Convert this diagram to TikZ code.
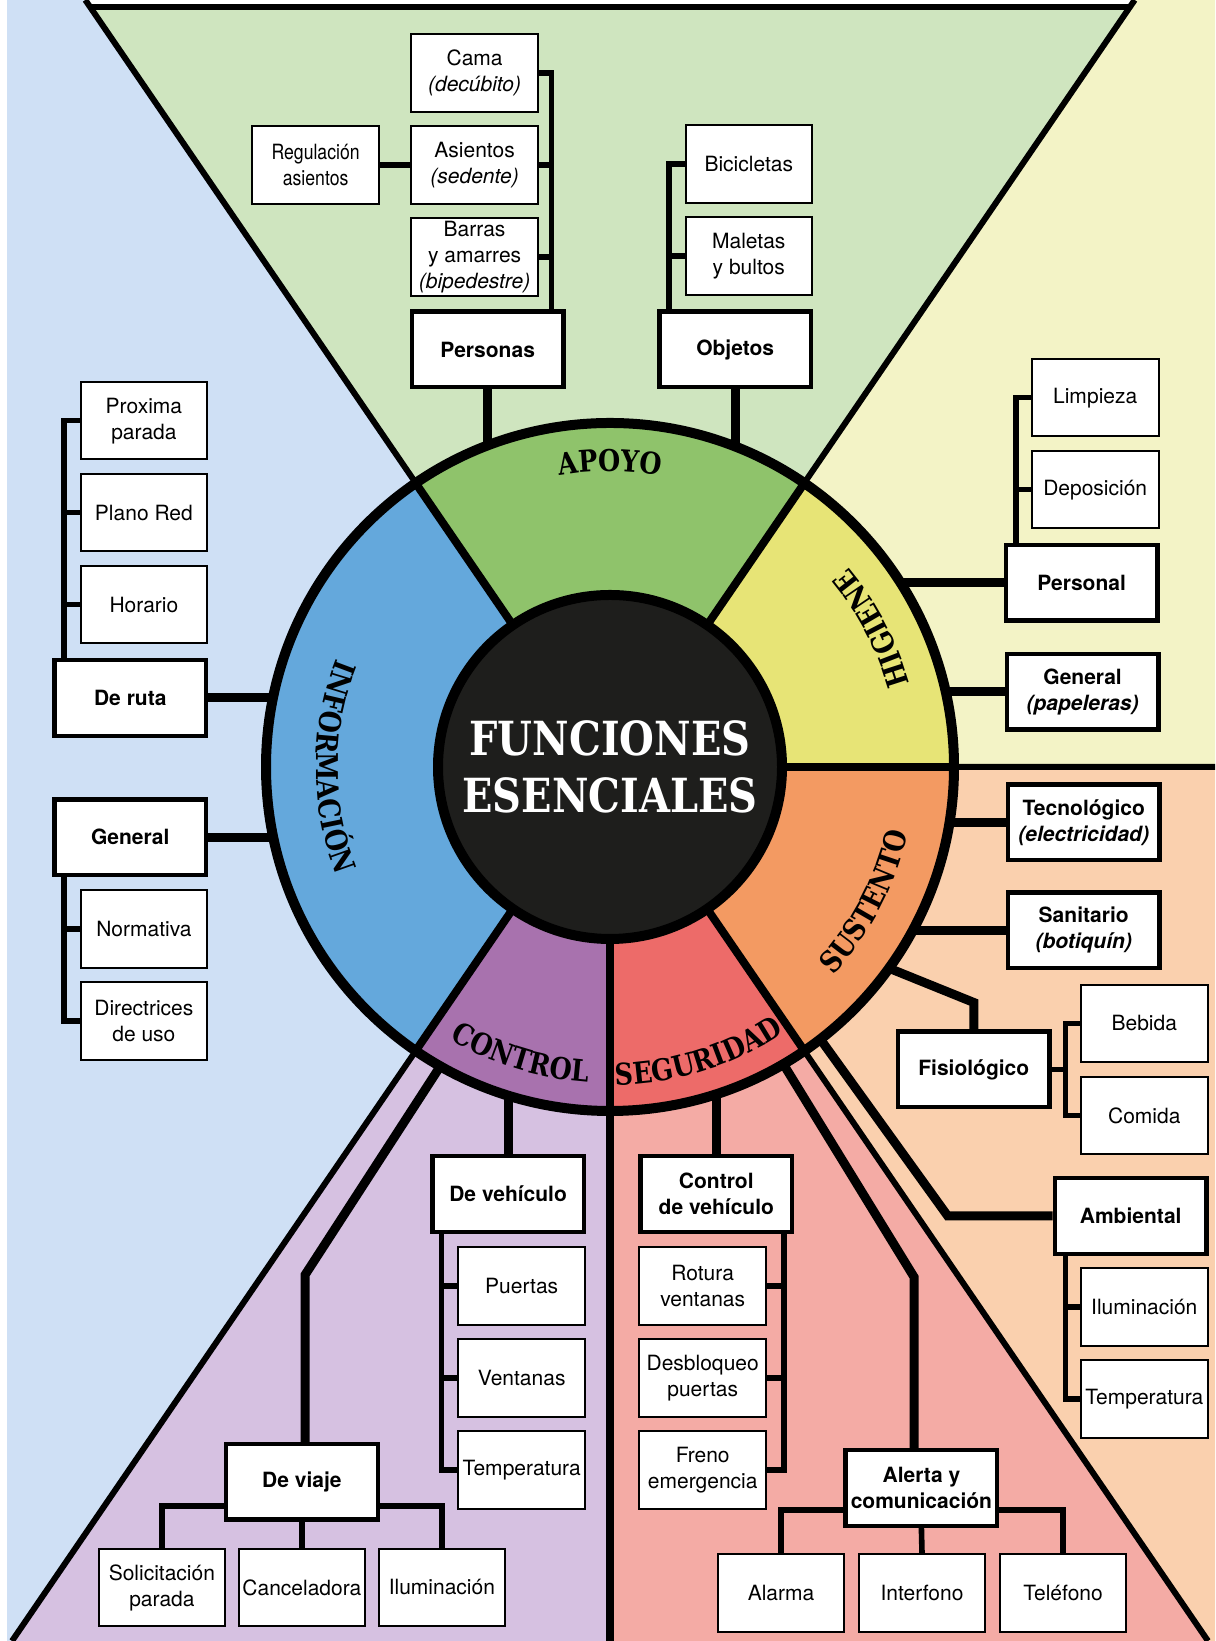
\documentclass[tikz,border=0pt]{standalone}
\usepackage{fontspec}
\setmainfont{TeX Gyre Heros}
\newfontfamily\slabfont[FakeStretch=0.85]{DejaVu Serif}
\newfontfamily\narrowfont[FakeStretch=0.84]{TeX Gyre Heros}
\usetikzlibrary{positioning,calc,decorations.text}

\definecolor{infobg}{HTML}{CFE0F5}
\definecolor{apoyobg}{HTML}{CFE5BF}
\definecolor{higbg}{HTML}{F3F3C6}
\definecolor{sustbg}{HTML}{FAD0AE}
\definecolor{segbg}{HTML}{F4ABA5}
\definecolor{ctrlbg}{HTML}{D6C1E1}
\definecolor{infocol}{HTML}{64A8DC}
\definecolor{apoyocol}{HTML}{8FC36B}
\definecolor{higcol}{HTML}{E7E476}
\definecolor{sustcol}{HTML}{F39A62}
\definecolor{segcol}{HTML}{ED6B69}
\definecolor{ctrlcol}{HTML}{A872AE}
\definecolor{core}{HTML}{1E1E1C}

\pgfdeclarelayer{back}
\pgfdeclarelayer{wires}
\pgfdeclarelayer{ring}
\pgfsetlayers{back,wires,ring,main}

\newcommand{\boxfont}{\fontsize{10.5}{13}\selectfont}
\newcommand{\ringfont}{\slabfont\bfseries\fontsize{15}{18}\selectfont}
\newcommand{\ringlabel}[4]{\path[decorate,decoration={text along path,text align=center,text={|\ringfont|#4}}] ($(c)+(#1:#3)$) arc[start angle=#1,end angle=#2,radius=#3];}

\tikzset{
  leaf/.style={draw,fill=white,line width=1pt,minimum width=63.3pt,minimum height=38.8pt,inner sep=0pt,align=center,font=\boxfont},
  branch/.style={leaf,line width=2.2pt,minimum width=75.8pt,minimum height=37.8pt,font=\boxfont\bfseries},
  trunk/.style={line width=4.5pt},
  twig/.style={line width=2.8pt}
}

\begin{document}
\begin{tikzpicture}[x=0.5pt,y=0.5pt,on grid,node distance=46pt]
  \useasboundingbox (0,0) rectangle (1215,1641);
  \coordinate (c) at (610,874);

  \node[leaf] (cama) at (474.6,1567.7) {Cama\\\textit{(decúbito)}};
  \node[leaf,below=of cama] (asientos) {Asientos\\\textit{(sedente)}};
  \node[leaf,below=of asientos] (barras) {Barras\\y amarres\\\textit{(bipedestre)}};
  \node[leaf,left=79.5pt of asientos,font=\narrowfont\boxfont] (regul) {Regulación\\asientos};
  \node[branch] (personas) at (487.7,1291.5) {Personas};
  \node[leaf] (bicis) at (748.8,1476.7) {Bicicletas};
  \node[leaf,below=of bicis] (maletas) {Maletas\\y bultos};
  \node[branch] (objetos) at (735.2,1291.5) {Objetos};

  \node[leaf] (proxima) at (143.9,1220.3) {Proxima\\parada};
  \node[leaf,below=of proxima] (plano) {Plano Red};
  \node[leaf,below=of plano] (horario) {Horario};
  \node[branch] (deruta) at (130.3,943) {De ruta};
  \node[branch] (general) at (130.3,803.8) {General};
  \node[leaf] (normativa) at (143.9,711.7) {Normativa};
  \node[leaf,below=of normativa] (directrices) {Directrices\\de uso};

  \node[leaf] (limpieza) at (1095.2,1243.3) {Limpieza};
  \node[leaf,below=of limpieza] (deposicion) {Deposición};
  \node[branch] (personal) at (1081.6,1058.1) {Personal};
  \node[branch] (papeleras) at (1082.6,949.3) {General\\\textit{(papeleras)}};

  \node[branch] (tecno) at (1083.7,818.5) {Tecnológico\\\textit{(electricidad)}};
  \node[branch] (sanitario) at (1083.7,710.7) {Sanitario\\\textit{(botiquín)}};
  \node[leaf] (bebida) at (1144.3,617.5) {Bebida};
  \node[leaf,below=of bebida] (comida) {Comida};
  \node[branch] (fisio) at (973.8,571.5) {Fisiológico};
  \node[branch] (ambiental) at (1130.7,425) {Ambiental};
  \node[leaf] (ilum2) at (1144.3,334) {Iluminación};
  \node[leaf,below=of ilum2] (temp2) {Temperatura};

  \node[branch] (ctrlveh) at (716.3,447) {Control\\de vehículo};
  \node[leaf] (rotura) at (702.7,354.9) {Rotura\\ventanas};
  \node[leaf,below=of rotura] (desbloqueo) {Desbloqueo\\puertas};
  \node[leaf,below=of desbloqueo] (freno) {Freno\\emergencia};
  \node[branch] (alerta) at (921.4,152.9) {Alerta y\\comunicación};
  \node[leaf] (interfono) at (922,48.2) {Interfono};
  \node[leaf,left=70.5pt of interfono] (alarma) {Alarma};
  \node[leaf,right=70.5pt of interfono] (telefono) {Teléfono};

  \node[branch] (deveh) at (508.1,447) {De vehículo};
  \node[leaf] (puertas) at (521.7,354.9) {Puertas};
  \node[leaf,below=of puertas] (ventanas) {Ventanas};
  \node[leaf,below=of ventanas] (temp1) {Temperatura};
  \node[branch] (deviaje) at (301.9,159.2) {De viaje};
  \node[leaf] (canceladora) at (301.9,53.5) {Canceladora};
  \node[leaf,left=70pt of canceladora] (solicitacion) {Solicitación\\parada};
  \node[leaf,right=70pt of canceladora] (ilum1) {Iluminación};

  \begin{pgfonlayer}{back}
    \fill[white] (0,0) rectangle (1215,1641);
    \fill[infobg] (7,0) rectangle (1215,1641);
    \fill[apoyobg] (c) -- (85.3,1641) -- (1134.7,1641) -- cycle;
    \fill[white] (90,1634) -- (85.3,1641) -- (1134.7,1641) -- (1130,1634) -- cycle;
    \fill[higbg] (c) -- (1134.7,1641) -- (1215,1641) -- (1215,874) -- cycle;
    \fill[sustbg] (c) -- (1215,874) -- (1215,0) -- (1208,0) -- cycle;
    \fill[segbg] (c) -- (1208,0) -- (610,0) -- cycle;
    \fill[ctrlbg] (c) -- (610,0) -- (12,0) -- cycle;
    \draw[line width=3pt] (90,1634) -- (1130,1634);
    \draw[line width=3pt] (c) -- (85.3,1641) (c) -- (1134.7,1641) (c) -- (1215,874) (c) -- (1208,0) (c) -- (12,0);
    \draw[line width=4pt] (c) -- (610,0);
  \end{pgfonlayer}

  \begin{pgfonlayer}{wires}
    \coordinate (pspine) at (551.5,0);
    \coordinate (ospine) at (668.7,0);
    \coordinate (ispine) at (63.8,0);
    \coordinate (hspine) at (1016.2,0);
    \coordinate (fspine) at (1065.3,0);
    \coordinate (sspine) at (783.8,0);
    \coordinate (cspine) at (441.6,0);
    \coordinate (alertabend) at (914,364);
    \coordinate (viajebend) at (305,366);

    \draw[trunk] (personas.south) -- (personas.south |- c);
    \draw[trunk] (objetos.south) -- (objetos.south |- c);
    \draw[trunk] (deruta.east) -- (deruta.east -| c);
    \draw[trunk] (general.east) -- (general.east -| c);
    \draw[trunk] (personal.west) -- (personal.west -| c);
    \draw[trunk] (papeleras.west) -- (papeleras.west -| c);
    \draw[trunk] (tecno.west) -- (tecno.west -| c);
    \draw[trunk] (sanitario.west) -- (sanitario.west -| c);
    \draw[trunk] (fisio.north) -- ++(0,27) -- (839,693);
    \draw[trunk] (ambiental.west) -- ++(-105,0) -- ++(-170,236);
    \draw[trunk] (ctrlveh.north) -- (ctrlveh.north |- c);
    \draw[trunk] (deveh.north) -- (deveh.north |- c);
    \draw[trunk] (alertabend |- alerta.north) -- (alertabend) -- (736,654);
    \draw[trunk] (viajebend |- deviaje.north) -- (viajebend) -- (491,653);

    \draw[twig] (cama.east) -| (personas.north -| pspine);
    \draw[twig] (asientos.east) -- (asientos.east -| pspine);
    \draw[twig] (barras.east) -- (barras.east -| pspine);
    \draw[twig] (regul.east) -- (asientos.west);
    \draw[twig] (bicis.west) -| (objetos.north -| ospine);
    \draw[twig] (maletas.west) -- (maletas.west -| ospine);
    \draw[twig] (proxima.west) -| (deruta.north -| ispine);
    \draw[twig] (plano.west) -- (plano.west -| ispine);
    \draw[twig] (horario.west) -- (horario.west -| ispine);
    \draw[twig] (general.south -| ispine) |- (directrices.west);
    \draw[twig] (normativa.west) -- (normativa.west -| ispine);
    \draw[twig] (limpieza.west) -| (personal.north -| hspine);
    \draw[twig] (deposicion.west) -- (deposicion.west -| hspine);
    \draw[twig] (fisio.east) -- (fisio.east -| fspine);
    \draw[twig] (bebida.west) -| (fisio.east -| fspine) |- (comida.west);
    \draw[twig] (ambiental.south -| fspine) |- (temp2.west);
    \draw[twig] (ilum2.west) -- (ilum2.west -| fspine);
    \draw[twig] (ctrlveh.south -| sspine) |- (freno.east);
    \draw[twig] (rotura.east) -- (rotura.east -| sspine);
    \draw[twig] (desbloqueo.east) -- (desbloqueo.east -| sspine);
    \draw[twig] ($(alerta.south west)+(0,18)$) -| (alarma.north);
    \draw[twig] ($(alerta.south east)+(0,18)$) -| (telefono.north);
    \draw[twig] (alerta.south) -- (interfono.north);
    \draw[twig] (deveh.south -| cspine) |- (temp1.west);
    \draw[twig] (puertas.west) -- (puertas.west -| cspine);
    \draw[twig] (ventanas.west) -- (ventanas.west -| cspine);
    \draw[twig] ($(deviaje.south west)+(0,16)$) -| (solicitacion.north);
    \draw[twig] ($(deviaje.south east)+(0,16)$) -| (ilum1.north);
    \draw[twig] (deviaje.south) -- (canceladora.north);
  \end{pgfonlayer}

  \begin{pgfonlayer}{ring}
    \foreach \a/\b/\col in {55.6/124.4/apoyocol,124.4/235.6/infocol,235.6/270/ctrlcol,270/304.4/segcol,304.4/360/sustcol,0/55.6/higcol}
      \fill[\col] (c) -- ++(\a:172pt) arc[start angle=\a,end angle=\b,radius=172pt] -- cycle;
    \foreach \a in {0,55.6,124.4,235.6,270,304.4}
      \draw[line width=4pt] (c) -- ++(\a:172pt);
    \draw[line width=5pt] (c) circle[radius=172pt];
    \filldraw[fill=core,line width=5pt] (c) circle[radius=86pt];
  \end{pgfonlayer}

  \ringlabel{124.4}{55.6}{148pt}{APOYO}
  \ringlabel{0}{55.6}{155.5pt}{HIGIENE}
  \ringlabel{-55.6}{0}{152.5pt}{SUSTENTO}
  \ringlabel{-90}{-55.6}{159pt}{SEGURIDAD}
  \ringlabel{-124.4}{-90}{158pt}{CONTROL}
  \ringlabel{124.4}{235.6}{147pt}{INFORMACIÓN}
  \node[font=\slabfont\bfseries\fontsize{23.5}{28.5}\selectfont,text=white,align=center] (titulo) at (c) {FUNCIONES\\ESENCIALES};
\end{tikzpicture}
\end{document}
